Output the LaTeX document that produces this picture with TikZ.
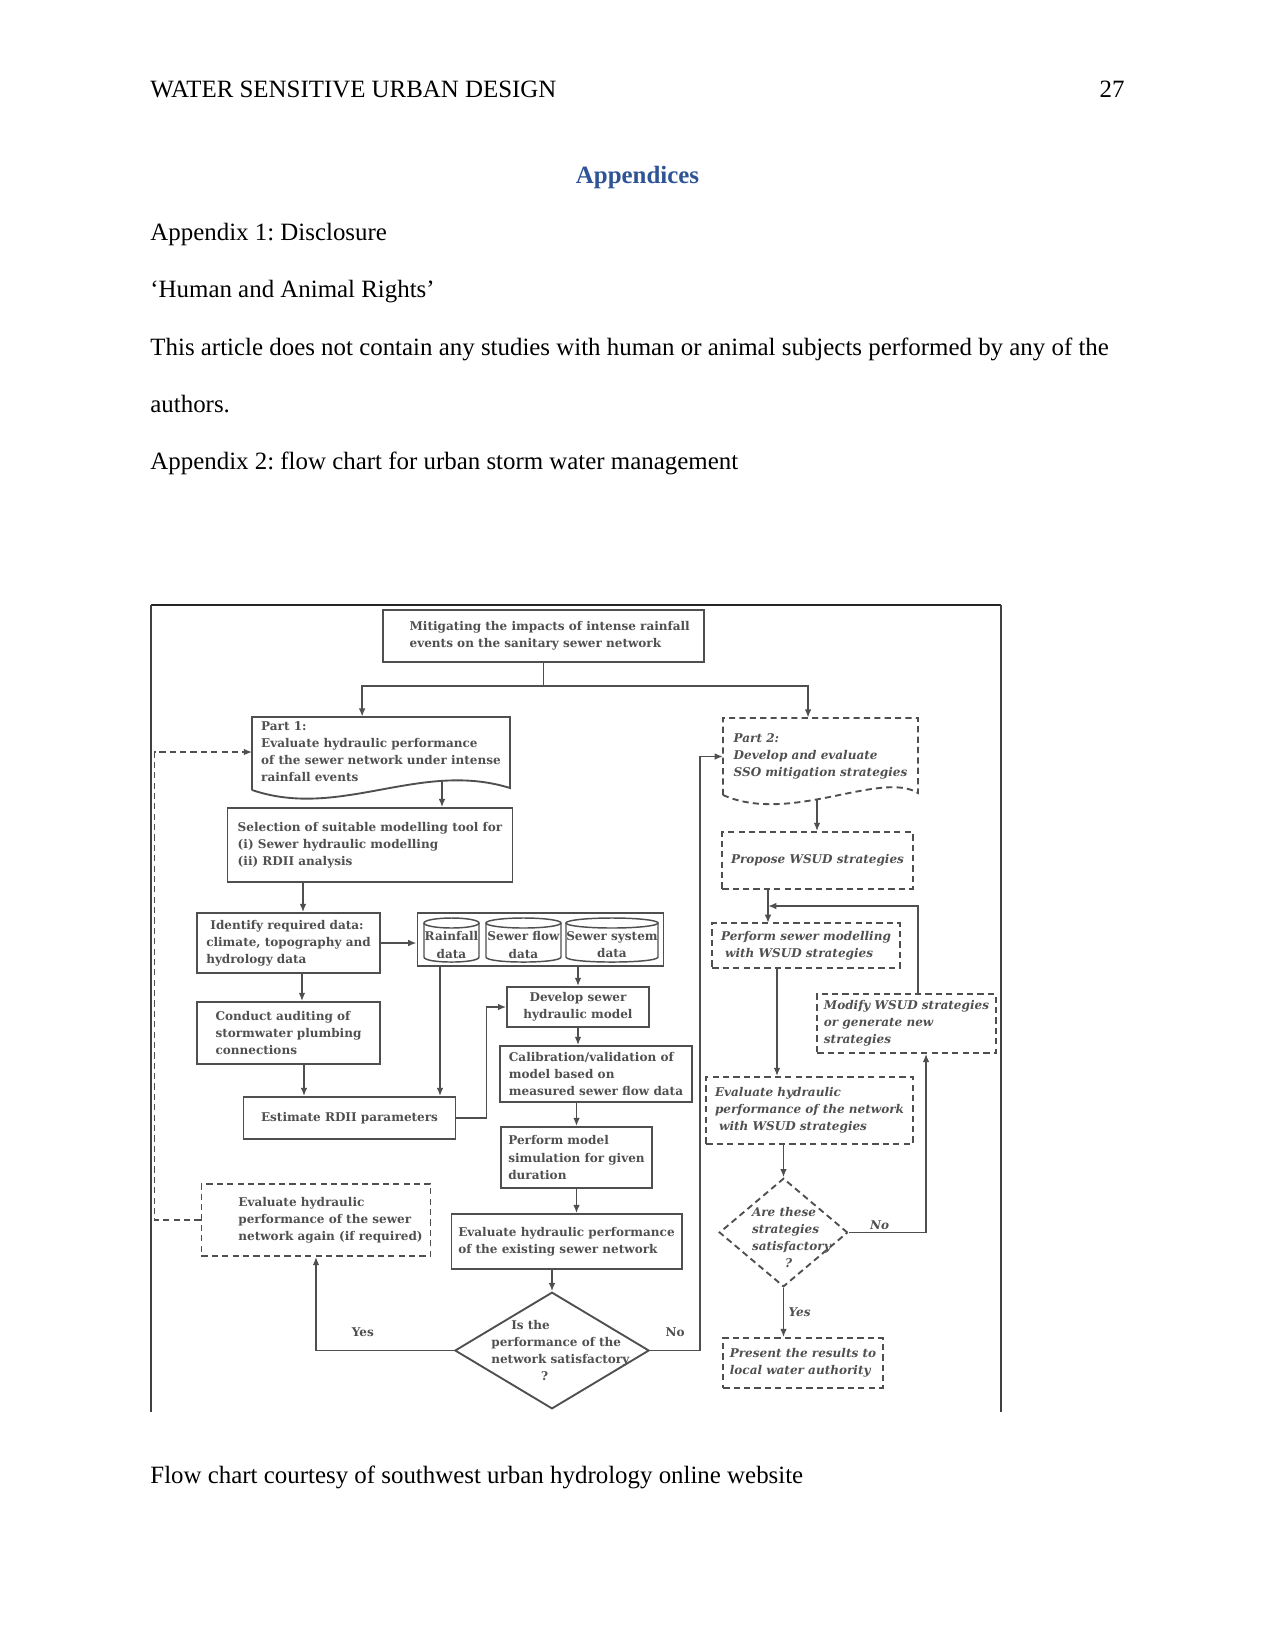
\documentclass[tikz,border=0pt]{standalone}
\usepackage{fontspec}
\setmainfont{Liberation Serif}
\newfontfamily\chartfont{DejaVu Serif}
\newcommand{\chartfnt}{\chartfont\bfseries\fontsize{5.8}{8.2}\selectfont}
\usetikzlibrary{shapes.geometric, arrows.meta}
\definecolor{headblue}{HTML}{2F5496}
\definecolor{chartgray}{HTML}{505050}
\definecolor{linegray}{HTML}{4F4F4F}
\frenchspacing

\begin{document}
\begin{tikzpicture}[x=0.016933cm, y=-0.016933cm,
        % page text (12pt, 150 px per inch)
        page/.style={font=\fontsize{12}{14}\selectfont, inner sep=0pt},
        % solid boxes of the flow chart
        box/.style={rectangle, draw=linegray, line width=0.9pt, text=chartgray, font=\chartfnt, align=left, inner sep=0pt},
        % dashed boxes (part 2)
        dashy/.style={dash pattern=on 3pt off 2pt},
        dbox/.style={box, dashy, font=\chartfnt\itshape},
        % plain text inside shapes
        chtext/.style={text=chartgray, font=\chartfnt, align=left, inner sep=0pt},
        % decisions
        decide/.style={diamond, draw=linegray, line width=0.9pt, inner sep=0pt},
        ddecide/.style={decide, dashy},
        % outline of the data stores
        storeline/.style={draw=linegray, line width=0.7pt},
        arr/.style={draw=linegray, line width=0.9pt, -{Latex[length=4pt, width=3.2pt]}},
        lbl/.style={text=chartgray, font=\chartfnt, inner sep=1pt}
    ]

    \fill[white] (0,0) rectangle (1275,1650);
    \useasboundingbox (0,0) rectangle (1275,1650);

    % --- PAGE TEXT ---
    \node[page, anchor=base west] (runhead) at (150,97.7) {WATER SENSITIVE URBAN DESIGN};
    \node[page, anchor=base east] (pagenum) at (1125,97.7) {27};
    \node[page, font=\fontsize{12}{14}\selectfont\bfseries, text=headblue, anchor=base] (apptitle) at (637.5,183.3) {Appendices};
    \node[page, anchor=base west] (disc) at (150,240.7) {Appendix 1: Disclosure};
    \node[page, anchor=base west] (rights) at (150,297.5) {‘Human and Animal Rights’};
    \node[page, anchor=base west] (stmta) at (150,355) {This article does not contain any studies with human or animal subjects performed by any of the};
    \node[page, anchor=base west] (stmtb) at (150,412.3) {authors.};
    \node[page, anchor=base west] (apptwo) at (150,469.3) {Appendix 2: flow chart for urban storm water management};
    \node[page, anchor=base west] (credit) at (150,1483) {Flow chart courtesy of southwest urban hydrology online website};

    % --- FRAME OF THE FIGURE ---
    \draw[line width=1.4pt, black!85] (151,605) -- (1001,605);
    \draw[line width=0.7pt, black!75] (151,605) -- (151,1412);
    \draw[line width=0.7pt, black!75] (1001,605) -- (1001,1412);

    % --- PART 1 (LEFT) ---
    \node[box, minimum width=155pt, minimum height=25pt] (mit) at (543.5,636) {\hspace*{6pt}Mitigating the impacts of intense rainfall\\\hspace*{6pt}events on the sanitary sewer network};

    \node[chtext, minimum width=123.8pt, minimum height=33.6pt] (part1) at (381,752) {Part 1:\\Evaluate hydraulic performance\\of the sewer network under intense\\rainfall events};
    \draw[draw=linegray, line width=0.9pt] (252,790) -- (252,717) -- (510,717) -- (510,788) .. controls (420,760) and (340,820) .. (252,790);

    \node[box, minimum width=137.3pt, minimum height=35.5pt] (sel) at (370,845) {Selection of suitable modelling tool for\\(i) Sewer hydraulic modelling\\(ii) RDII analysis};
    \node[box, minimum width=87.8pt, minimum height=28.8pt] (ident) at (288.5,943) {\hspace*{2pt}Identify required data:\\climate, topography and\\hydrology data};
    \node[box, minimum width=118.6pt, minimum height=25.4pt] (data) at (540.5,939.5) {};

    % data stores (cylinders), text cut at their sides
    \foreach \cx/\rx/\nm/\lab in {451.5/27.5/rain/Rainfall, 523.5/37.5/flow/Sewer flow, 612/46/sys/Sewer system}{
        \draw[storeline] (\cx-\rx,923) -- (\cx-\rx,957) .. controls (\cx-\rx,963.7) and (\cx+\rx,963.7) .. (\cx+\rx,957) -- (\cx+\rx,923);
        \draw[storeline] (\cx,923) ellipse [x radius=\rx, y radius=5];
        \begin{scope}
            \clip (\cx-\rx,918) rectangle (\cx+\rx,962);
            \node[chtext, align=center] (\nm) at (\cx,945) {\lab\\data};
        \end{scope}
    }

    \node[box, minimum width=87.8pt, minimum height=29.8pt] (cond) at (288.5,1033) {Conduct auditing of\\stormwater plumbing\\connections};
    \node[box, minimum width=102.2pt, minimum height=20.2pt, align=center] (est) at (349.5,1118) {Estimate RDII parameters};
    \node[box, minimum width=68.2pt, minimum height=19.2pt, align=center] (dev) at (578,1007) {Develop sewer\\hydraulic model};
    \node[box, minimum width=92.2pt, minimum height=26.9pt] (calib) at (596,1074) {Calibration/validation of\\model based on\\measured sewer flow data};
    \node[box, minimum width=72.5pt, minimum height=29.3pt] (perf) at (576.5,1157.5) {Perform model\\simulation for given\\duration};
    \node[box, minimum width=110.9pt, minimum height=26.4pt] (evex) at (566.5,1241.5) {Evaluate hydraulic performance\\of the existing sewer network};
    \node[decide, minimum width=93.6pt, minimum height=56.2pt] (dia1) at (552,1350.5) {};
    \node[chtext, xshift=4pt] (dia1txt) at (dia1) {\hspace*{9.6pt}Is the\\performance of the\\network satisfactory\\\hspace*{24pt}?};
    \node[box, dashy, minimum width=110.4pt, minimum height=34.6pt] (evag) at (316,1220) {\hspace*{14pt}Evaluate hydraulic\\\hspace*{14pt}performance of the sewer\\\hspace*{14pt}network again (if required)};

    % --- PART 2 (RIGHT) ---
    \node[chtext, font=\chartfnt\itshape, minimum width=93.6pt, minimum height=37pt] (part2) at (820.5,756.5) {Part 2:\\Develop and evaluate\\SSO mitigation strategies};
    \draw[draw=linegray, line width=0.9pt, dashy] (723,795) -- (723,718) -- (918,718) -- (918,793) .. controls (880,770) and (790,825) .. (723,795);

    \node[dbox, minimum width=91.7pt, minimum height=27.4pt] (prop) at (817.5,860.5) {Propose WSUD strategies};
    \node[dbox, minimum width=90.2pt, minimum height=21.6pt] (pws) at (806,945.5) {Perform sewer modelling\\\hspace*{2pt}with WSUD strategies};
    \node[dbox, minimum width=85.9pt, minimum height=28.3pt] (mod) at (906.5,1023.5) {Modify WSUD strategies\\or generate new\\strategies};
    \node[dbox, minimum width=99.4pt, minimum height=32.2pt] (evw) at (809.5,1110.5) {Evaluate hydraulic\\performance of the network\\\hspace*{2pt}with WSUD strategies};
    \node[ddecide, minimum width=61.9pt, minimum height=52.3pt] (dia2) at (783.5,1232.5) {};
    \node[chtext, font=\chartfnt\itshape, xshift=3.8pt, yshift=-2.4pt] (dia2txt) at (dia2) {Are these\\strategies\\satisfactory\\\hspace*{16pt}?};
    \node[dbox, minimum width=76.8pt, minimum height=24pt] (pres) at (803,1363) {Present the results to\\local water authority};

    % --- CONNECTORS ---
    \coordinate (split) at (543.5,686);
    \coordinate (p1out) at (442,781);
    \coordinate (selout) at (303,882);
    \coordinate (condout) at (304,1064);
    \coordinate (rainout) at (440,966);
    \coordinate (p2out) at (817,799);
    \coordinate (pwsin) at (768,923);
    \coordinate (merge) at (768,906);
    \coordinate (pwsout) at (777,968);

    \draw[draw=linegray, line width=0.9pt] (mit.south) -- (split);
    \draw[arr] (split) -| ([xshift=-9.1pt]part1.north);
    \draw[arr] (split) -| ([xshift=-6pt]part2.north);
    \draw[arr] (p1out) -- (p1out |- sel.north);
    \draw[arr] (selout) -- (selout |- ident.north);
    \draw[arr] (ident.east) -- (ident.east -| data.west);
    \draw[arr] ([xshift=6.5pt]ident.south) -- ([xshift=6.5pt]cond.north);
    \draw[arr] (condout) -- (condout |- est.north);
    \draw[arr] (rainout) -- (rainout |- est.north);
    \draw[arr] (data.south -| dev.north) -- (dev.north);
    \draw[arr] (est.east) -- ++(30,0) |- (dev.west);
    \draw[arr] (dev.south) -- (dev.south |- calib.north);
    \draw[arr] (calib.south -| perf.north) -- (perf.north);
    \draw[arr] (perf.south) -- (perf.south |- evex.north);
    \draw[arr] (evex.south -| dia1.north) -- (dia1.north);
    \draw[arr] (dia1.west) -| node[lbl, pos=0.33, above=5pt] (yes1) {Yes} (evag.south);
    \draw[arr] (dia1.east) -- node[lbl, above=5pt] (no1) {No} ++(50,0) |- (part2.west);
    \draw[arr, dashy] (evag.west) -- ++(-46,0) |- (part1.west);

    \draw[arr] (p2out) -- (p2out |- prop.north);
    \draw[arr] (pwsin |- prop.south) -- (pwsin);
    \draw[arr] ([xshift=5.5pt]mod.north) |- (merge);
    \draw[arr] (pwsout) -- (pwsout |- evw.north);
    \draw[arr] (evw.south -| dia2.north) -- (dia2.north);
    \draw[arr] (dia2.east) -| node[lbl, font=\chartfnt\itshape, pos=0.2, above=0pt] (no2) {No} ([xshift=9.4pt]mod.south);
    \draw[arr] (dia2.south) -- node[lbl, font=\chartfnt\itshape, right=1pt] (yes2) {Yes} (dia2.south |- pres.north);

\end{tikzpicture}
\end{document}
